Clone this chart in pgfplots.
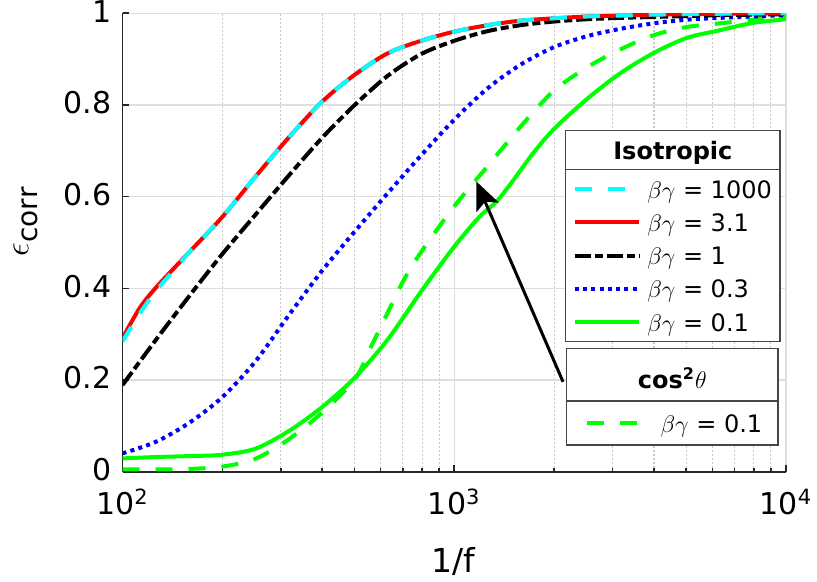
\documentclass[border=0pt]{standalone}
\usepackage{fontspec}
\setmainfont{DejaVu Sans}
\usepackage{pgfplots}
\pgfplotsset{compat=1.18}
\usetikzlibrary{arrows.meta}

\definecolor{axisgray}{RGB}{38,38,38}
\definecolor{gridgray}{RGB}{222,222,222}
\definecolor{minorgray}{RGB}{200,200,200}
\definecolor{boxgray}{RGB}{70,70,70}
\definecolor{mcyan}{RGB}{0,255,255}
\definecolor{mred}{RGB}{255,0,0}
\definecolor{mblue}{RGB}{0,0,255}
\definecolor{mgreen}{RGB}{0,255,0}

\pgfplotsset{
  c1000/.style={color=mcyan, line width=2pt, dash pattern=on 8.5pt off 8pt},
  c31/.style={color=mred, line width=2pt},
  c1/.style={color=black, line width=2pt, dash pattern=on 8pt off 2pt on 4pt off 2pt},
  c03/.style={color=mblue, line width=2pt, dash pattern=on 2pt off 2.15pt},
  c01/.style={color=mgreen, line width=2pt},
  cc01/.style={color=mgreen, line width=2pt, dash pattern=on 8.5pt off 8pt},
  legfont/.style={font=\fontsize{12}{14.4}\selectfont},
}

\begin{document}
\begin{tikzpicture}
\useasboundingbox (-61.25pt,-55.15pt) rectangle (347.25pt,235.85pt);
\begin{axis}[
  at={(0pt,0pt)}, anchor=south west,
  width=331.75pt, height=229.2pt, scale only axis,
  xmode=log, xmin=100, xmax=10000, ymin=0, ymax=1,
  enlargelimits=false,
  axis x line*=bottom, axis y line*=left,
  axis line style={-, axisgray, line width=0.8pt},
  xtick={100,1000,10000},
  xticklabels={10\textsuperscript{2},10\textsuperscript{3},10\textsuperscript{4}},
  ytick={0,0.2,0.4,0.6,0.8,1},
  yticklabels={0,0.2,0.4,0.6,0.8,1},
  tick align=inside,
  major tick length=3.5pt, minor tick length=1.75pt,
  tick style={axisgray, line width=0.8pt},
  tick label style={font=\fontsize{15}{18}\selectfont, text=black},
  yticklabel style={xshift=-2pt, yshift=1pt},
  xticklabel style={yshift=-5pt},
  xmajorgrids, ymajorgrids, xminorgrids,
  major grid style={gridgray, line width=0.6pt},
  minor grid style={minorgray, line width=0.5pt, dash pattern=on 1pt off 1pt},
  xlabel={1/f},
  every axis x label/.style={at={(axis description cs:0.498,-0.219)}, anchor=base, font=\fontsize{16.5}{18}\selectfont},
  ylabel={\fontsize{18}{18}\selectfont$\epsilon$\raisebox{-0.45ex}{\fontsize{14}{14}\selectfont corr}},
  every axis y label/.style={at={(axis description cs:-0.146,0.545)}, rotate=90, anchor=center},
  legend image code/.code={\draw[#1] (0pt,0pt) -- (32.3pt,0pt);},
  legend cell align=left,
  legend style={legfont, at={(rel axis cs:0.6785,0.6523)}, anchor=north west,
    draw=none, fill=none, inner sep=0pt, outer sep=0pt, row sep=0pt,
    nodes={inner sep=0pt, text height=12.8pt, text depth=3.8pt},
    /tikz/every odd column/.append style={column sep=3pt}},
]
% legend entries, in the order they are listed
\addlegendimage{c1000}\addlegendentry{$\beta\gamma$ = 1000}
\addlegendimage{c31}\addlegendentry{$\beta\gamma$ = 3.1}
\addlegendimage{c1}\addlegendentry{$\beta\gamma$ = 1}
\addlegendimage{c03}\addlegendentry{$\beta\gamma$ = 0.3}
\addlegendimage{c01}\addlegendentry{$\beta\gamma$ = 0.1}

% isotropic, beta gamma = 0.1
\addplot[c01, smooth, forget plot] coordinates {
 (100,0.029) (125.89,0.032) (158.49,0.034) (199.53,0.037) (251.19,0.050)
 (316.23,0.088) (398.11,0.140) (501.19,0.205) (630.96,0.289) (794.33,0.393)
 (1000,0.491) (1191,0.556) (1340,0.589) (1507,0.636) (1730,0.695)
 (1995.3,0.747) (2511.9,0.813) (3162.3,0.869) (3981.1,0.913) (5011.9,0.946)
 (6309.6,0.963) (7943.3,0.979) (10000,0.987)};
% cos^2 theta, beta gamma = 0.1
\addplot[cc01, smooth, forget plot] coordinates {
 (100,0.005) (125.89,0.005) (158.49,0.006) (199.53,0.011) (251.19,0.028)
 (316.23,0.070) (398.11,0.128) (501.19,0.201) (562.34,0.274) (630.96,0.348)
 (707.95,0.421) (794.33,0.479) (1000,0.579) (1258.9,0.666) (1584.9,0.753)
 (1995.3,0.831) (2511.9,0.882) (3162.3,0.921) (3981.1,0.952) (5011.9,0.970)
 (6309.6,0.978) (7943.3,0.986) (10000,0.994)};
% isotropic, beta gamma = 0.3
\addplot[c03, smooth, forget plot] coordinates {
 (100,0.040) (125.89,0.065) (158.49,0.106) (199.53,0.162) (251.19,0.240)
 (316.23,0.340) (398.11,0.437) (501.19,0.524) (630.96,0.608) (794.33,0.690)
 (1000,0.768) (1258.9,0.836) (1584.9,0.888) (1995.3,0.926) (2511.9,0.950)
 (3162.3,0.966) (3981.1,0.978) (5011.9,0.986) (6309.6,0.990) (7943.3,0.993)
 (10000,0.996)};
% isotropic, beta gamma = 1
\addplot[c1, smooth, forget plot] coordinates {
 (100,0.189) (125.89,0.287) (158.49,0.382) (199.53,0.474) (251.19,0.560)
 (316.23,0.645) (398.11,0.727) (501.19,0.800) (630.96,0.864) (794.33,0.911)
 (1000,0.940) (1258.9,0.961) (1584.9,0.974) (1995.3,0.982) (2511.9,0.987)
 (3162.3,0.990) (3981.1,0.992) (5011.9,0.994) (6309.6,0.996) (7943.3,0.997)
 (10000,0.998)};
% isotropic, beta gamma = 3.1
\addplot[c31, smooth, forget plot] coordinates {
 (100,0.291) (112.2,0.355) (125.89,0.401) (158.49,0.478) (199.53,0.555)
 (251.19,0.643) (316.23,0.728) (398.11,0.806) (501.19,0.866) (630.96,0.913)
 (794.33,0.940) (1000,0.960) (1258.9,0.974) (1584.9,0.984) (1995.3,0.989)
 (2511.9,0.993) (3162.3,0.995) (3981.1,0.997) (5011.9,0.998) (6309.6,0.999)
 (7943.3,1.000) (10000,1.000)};
% isotropic, beta gamma = 1000
\addplot[c1000, smooth, forget plot] coordinates {
 (100,0.284) (112.2,0.343) (125.89,0.393) (158.49,0.478) (199.53,0.555)
 (251.19,0.643) (316.23,0.728) (398.11,0.806) (501.19,0.866) (630.96,0.913)
 (794.33,0.940) (1000,0.960) (1258.9,0.974) (1584.9,0.984) (1995.3,0.989)
 (2511.9,0.993) (3162.3,0.995) (3981.1,0.997) (5011.9,0.998) (6309.6,0.999)
 (7943.3,1.000) (10000,1.000)};

% pointer from the cos^2 box to its curve
\draw[black, line width=1.5pt, -{Stealth[length=14pt, width=12pt, inset=3pt]}]
  (axis cs:2128,0.196) -- (axis cs:1166,0.633);

% frame and heading of the isotropic legend
\draw[boxgray, line width=0.6pt, fill=white]
  (rel axis cs:0.668,0.7439) rectangle (rel axis cs:0.991,0.2836);
\draw[boxgray, line width=0.6pt] (rel axis cs:0.668,0.6597) -- (rel axis cs:0.991,0.6597);
\node[anchor=base, font=\fontsize{12}{14}\selectfont\bfseries]
  at (rel axis cs:0.8295,0.680) {Isotropic};

% frame and heading of the cos^2 legend
\draw[boxgray, line width=0.6pt, fill=white]
  (rel axis cs:0.6695,0.2692) rectangle (rel axis cs:0.988,0.0582);
\draw[boxgray, line width=0.6pt] (rel axis cs:0.6695,0.1542) -- (rel axis cs:0.988,0.1542);
\node[anchor=base, font=\fontsize{12}{14}\selectfont\bfseries]
  at (rel axis cs:0.8287,0.1819) {cos\textsuperscript{2}$\theta$};
\end{axis}

% second legend, same frame of reference
\begin{axis}[
  at={(0pt,0pt)}, anchor=south west,
  width=331.75pt, height=229.2pt, scale only axis,
  hide axis, xmin=0, xmax=1, ymin=0, ymax=1,
  legend image code/.code={\draw[#1] (0pt,0pt) -- (32.3pt,0pt);},
  legend cell align=left,
  legend style={legfont, at={(rel axis cs:0.697,0.1418)}, anchor=north west,
    draw=none, fill=none, inner sep=0pt, outer sep=0pt, row sep=0pt,
    nodes={inner sep=0pt, text height=12.8pt, text depth=3.8pt},
    /tikz/every odd column/.append style={column sep=3.5pt}},
]
\addlegendimage{cc01}\addlegendentry{$\beta\gamma$ = 0.1}
\end{axis}
\end{tikzpicture}
\end{document}
